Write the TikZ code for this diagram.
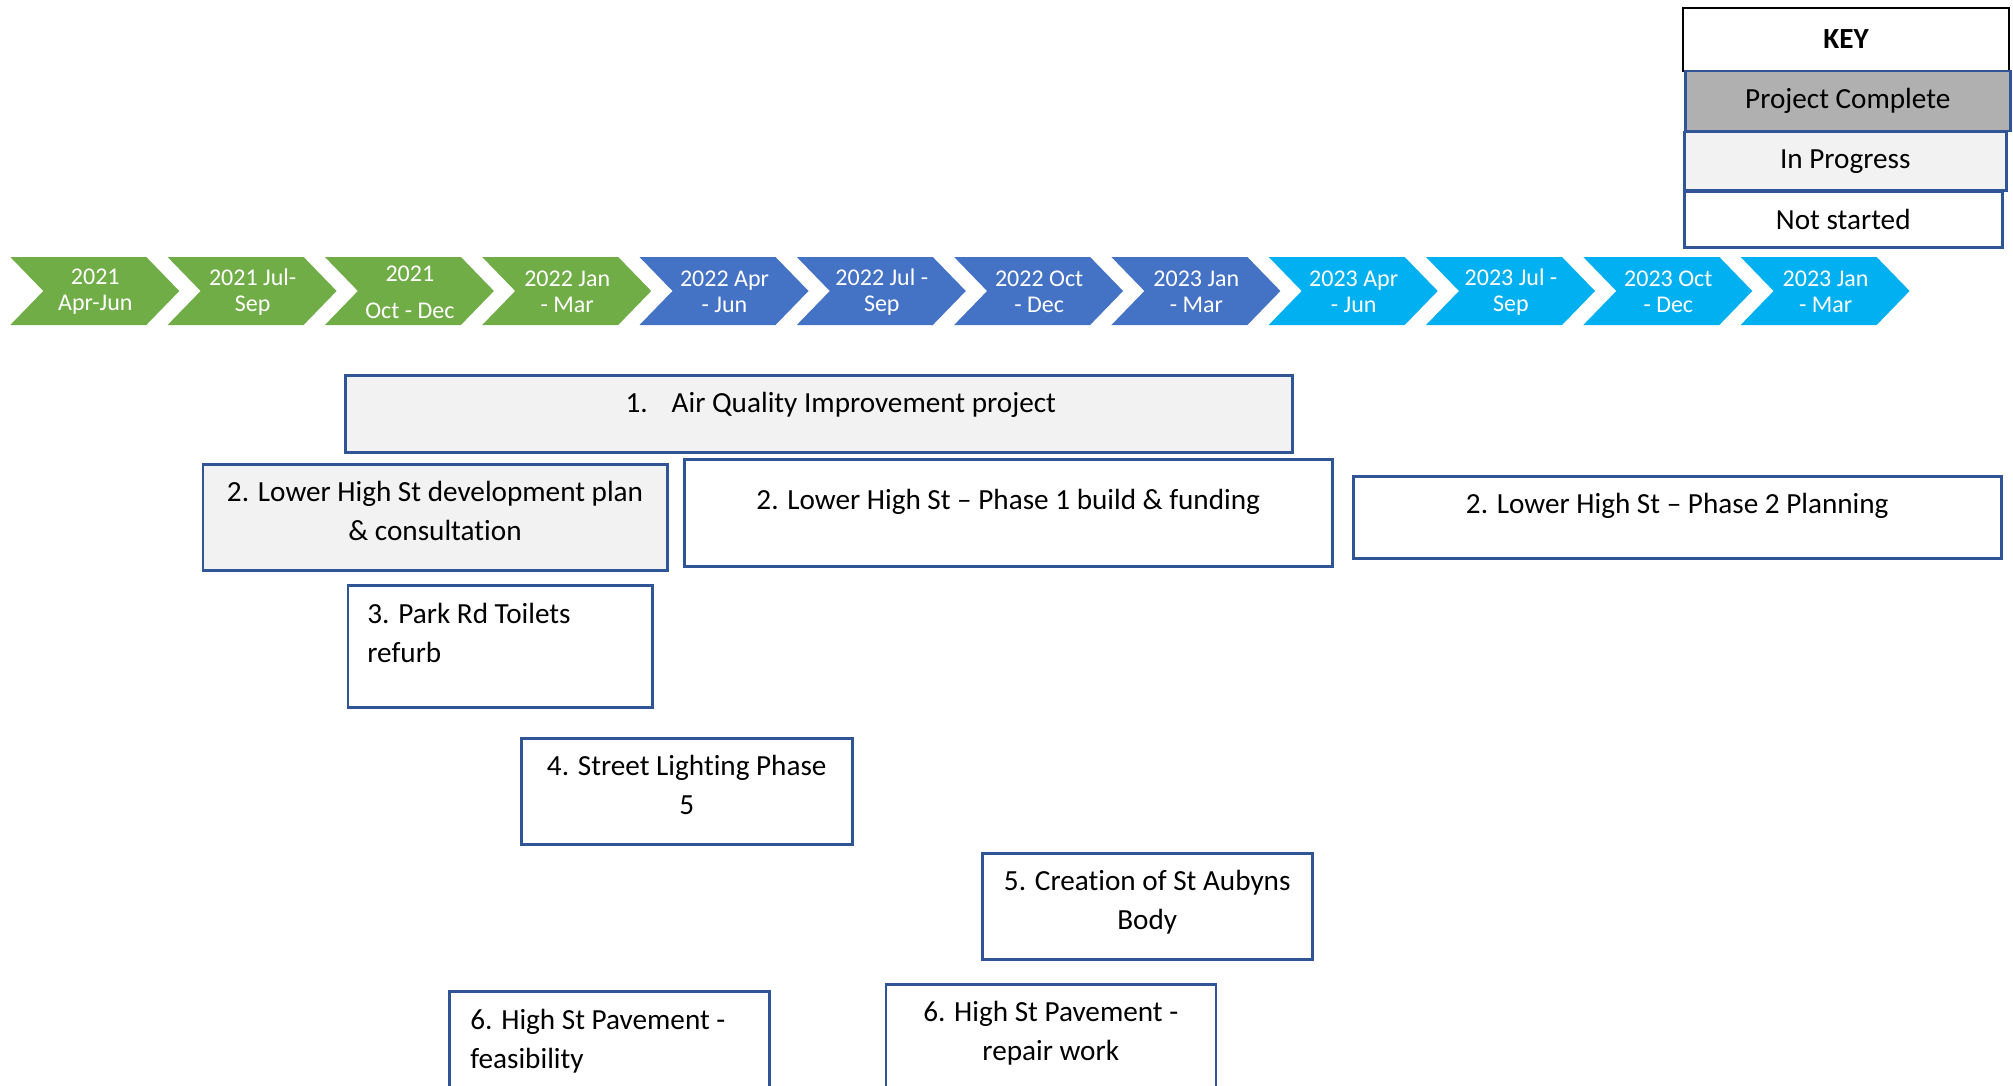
\documentclass[tikz,border=0pt]{standalone}
\usepackage{fontspec}
\setmainfont[Ligatures=NoCommon]{Carlito}
\usetikzlibrary{positioning}
\definecolor{qgreen}{HTML}{70AD47}
\definecolor{qblue}{HTML}{4472C4}
\definecolor{qcyan}{HTML}{00B0F0}
\definecolor{qborder}{HTML}{2F5597}
\definecolor{qdone}{HTML}{B0B0B0}
\definecolor{qprog}{HTML}{F2F2F2}
\begin{document}
\begin{tikzpicture}
        [
        x=0.5pt, y=-0.5pt,
        every node/.style={font=\fontsize{14.6}{19.3}\selectfont},
        qtext/.style={text=white, font=\fontsize{12}{13}\selectfont, align=center, inner sep=0pt},
        task/.style={draw=qborder, line width=1.25pt, anchor=north west, inner sep=0pt},
        tasktext/.style={inner sep=0pt, align=center},
        keyrow/.style={draw=qborder, line width=1.25pt, anchor=north west, inner sep=0pt},
        ]
        \useasboundingbox (0,0) rectangle (2013,1086);

        % quarters
        \foreach \i/\col/\txt in {0/qgreen/{2021\\Apr-Jun}, 1/qgreen/{2021 Jul-\\Sep},
            2/qgreen/{2021\\[5.5pt]Oct - Dec}, 3/qgreen/{2022 Jan\\- Mar},
            4/qblue/{2022 Apr\\- Jun}, 5/qblue/{2022 Jul -\\Sep},
            6/qblue/{2022 Oct\\- Dec}, 7/qblue/{2023 Jan\\- Mar},
            8/qcyan/{2023 Apr\\- Jun}, 9/qcyan/{2023 Jul -\\Sep},
            10/qcyan/{2023 Oct\\- Dec}, 11/qcyan/{2023 Jan\\- Mar}}
        {
            \pgfmathsetmacro\qx{10.3+157.3*\i}
            \fill[\col] (\qx,257) -- ++(136,0) -- ++(33,34) -- ++(-33,34) -- ++(-136,0) -- ++(33,-34) -- cycle;
            \node[qtext] (q\i) at (\qx+85,292) {\txt};
        }

        % key
        \node[keyrow, draw=black, line width=1pt, minimum width=163pt, minimum height=31.5pt,
            font=\fontsize{14.6}{19.3}\selectfont\bfseries] (key) at (1682,7) {KEY};
        \node[keyrow, fill=qdone, minimum width=162.5pt, minimum height=30pt] (done) at (1684,70) {Project Complete};
        \node[keyrow, fill=qprog, minimum width=161pt, minimum height=29pt] (prog) at (1683,131) {In Progress};
        \node[keyrow, fill=white, minimum width=159pt, minimum height=28pt] (todo) at (1683,190) {Not started};

        % projects
        \node[task, fill=qprog, minimum width=473.5pt, minimum height=38.5pt] (air) at (344,374) {};
        \node[tasktext, below=9pt of air.north, xshift=11pt] (airtext) {1.\hspace{12pt}Air Quality Improvement project};

        \node[task, fill=qprog, minimum width=232.3pt, minimum height=53pt] (lowplan) at (201.5,463) {};
        \node[tasktext, below=9pt of lowplan.north] (lowplantext) {2. Lower High St development plan\\\& consultation};

        \node[task, fill=white, minimum width=324pt, minimum height=53.5pt] (lowone) at (683,458) {};
        \node[tasktext, below=15.5pt of lowone.north] (lowonetext) {2. Lower High St -- Phase 1 build \& funding};

        \node[task, fill=white, minimum width=324pt, minimum height=41pt] (lowtwo) at (1352,475) {};
        \node[tasktext, below=9pt of lowtwo.north] (lowtwotext) {2. Lower High St -- Phase 2 Planning};

        \node[task, fill=white, minimum width=152.2pt, minimum height=61pt] (park) at (346.6,584) {};
        \node[tasktext, align=left, below right=9.5pt and 10.2pt of park.north west] (parktext) {3. Park Rd Toilets\\refurb};

        \node[task, fill=white, minimum width=165.5pt, minimum height=53pt] (light) at (520,737) {};
        \node[tasktext, below=9pt of light.north] (lighttext) {4. Street Lighting Phase\\5};

        \node[task, fill=white, minimum width=165pt, minimum height=53pt] (aubyns) at (981,852) {};
        \node[tasktext, below=9pt of aubyns.north] (aubynstext) {5. Creation of St Aubyns\\Body};

        \node[task, fill=white, minimum width=160pt, minimum height=55pt] (pavefeas) at (448,990) {};
        \node[tasktext, align=left, below right=9.5pt and 11pt of pavefeas.north west] (pavefeastext) {6. High St Pavement -\\feasibility};

        \node[task, fill=white, minimum width=165pt, minimum height=55pt] (pavework) at (884.5,983) {};
        \node[tasktext, below=9pt of pavework.north] (paveworktext) {6. High St Pavement -\\repair work};
        \end{tikzpicture}
\end{document}
